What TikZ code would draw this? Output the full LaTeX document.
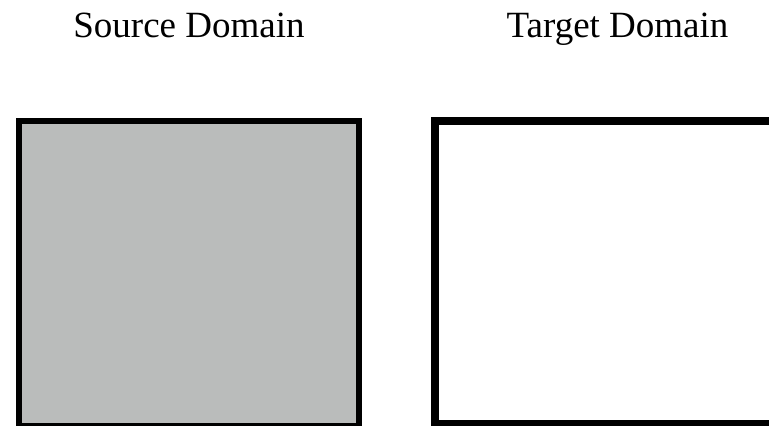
\documentclass[tikz,border=0pt]{standalone}
\usepackage{fontspec}
\setmainfont{Liberation Serif}
\definecolor{srcfill}{RGB}{186,188,187}
\begin{document}
\begin{tikzpicture}[x=1pt,y=1pt,
  title/.style={font=\fontsize{37}{44}\selectfont, anchor=base, inner sep=0pt},
  domainbox/.style={draw=black, rectangle, inner sep=0pt}]
\clip (0,0) rectangle (769,426);
\useasboundingbox (0,0) rectangle (769,426);
% domain labels
\node[title] (srclabel) at (189,388) {Source Domain};
\node[title] (tgtlabel) at (617.5,388) {Target Domain};
% source domain: grey filled box
\node[domainbox, fill=srcfill, line width=6pt, minimum width=340pt, minimum height=305pt] (srcbox) at (189,152.5) {};
% target domain: empty box running past the right edge
\node[domainbox, fill=white, line width=8pt, minimum width=350pt, minimum height=303pt] (tgtbox) at (610,153.5) {};
\end{tikzpicture}
\end{document}
